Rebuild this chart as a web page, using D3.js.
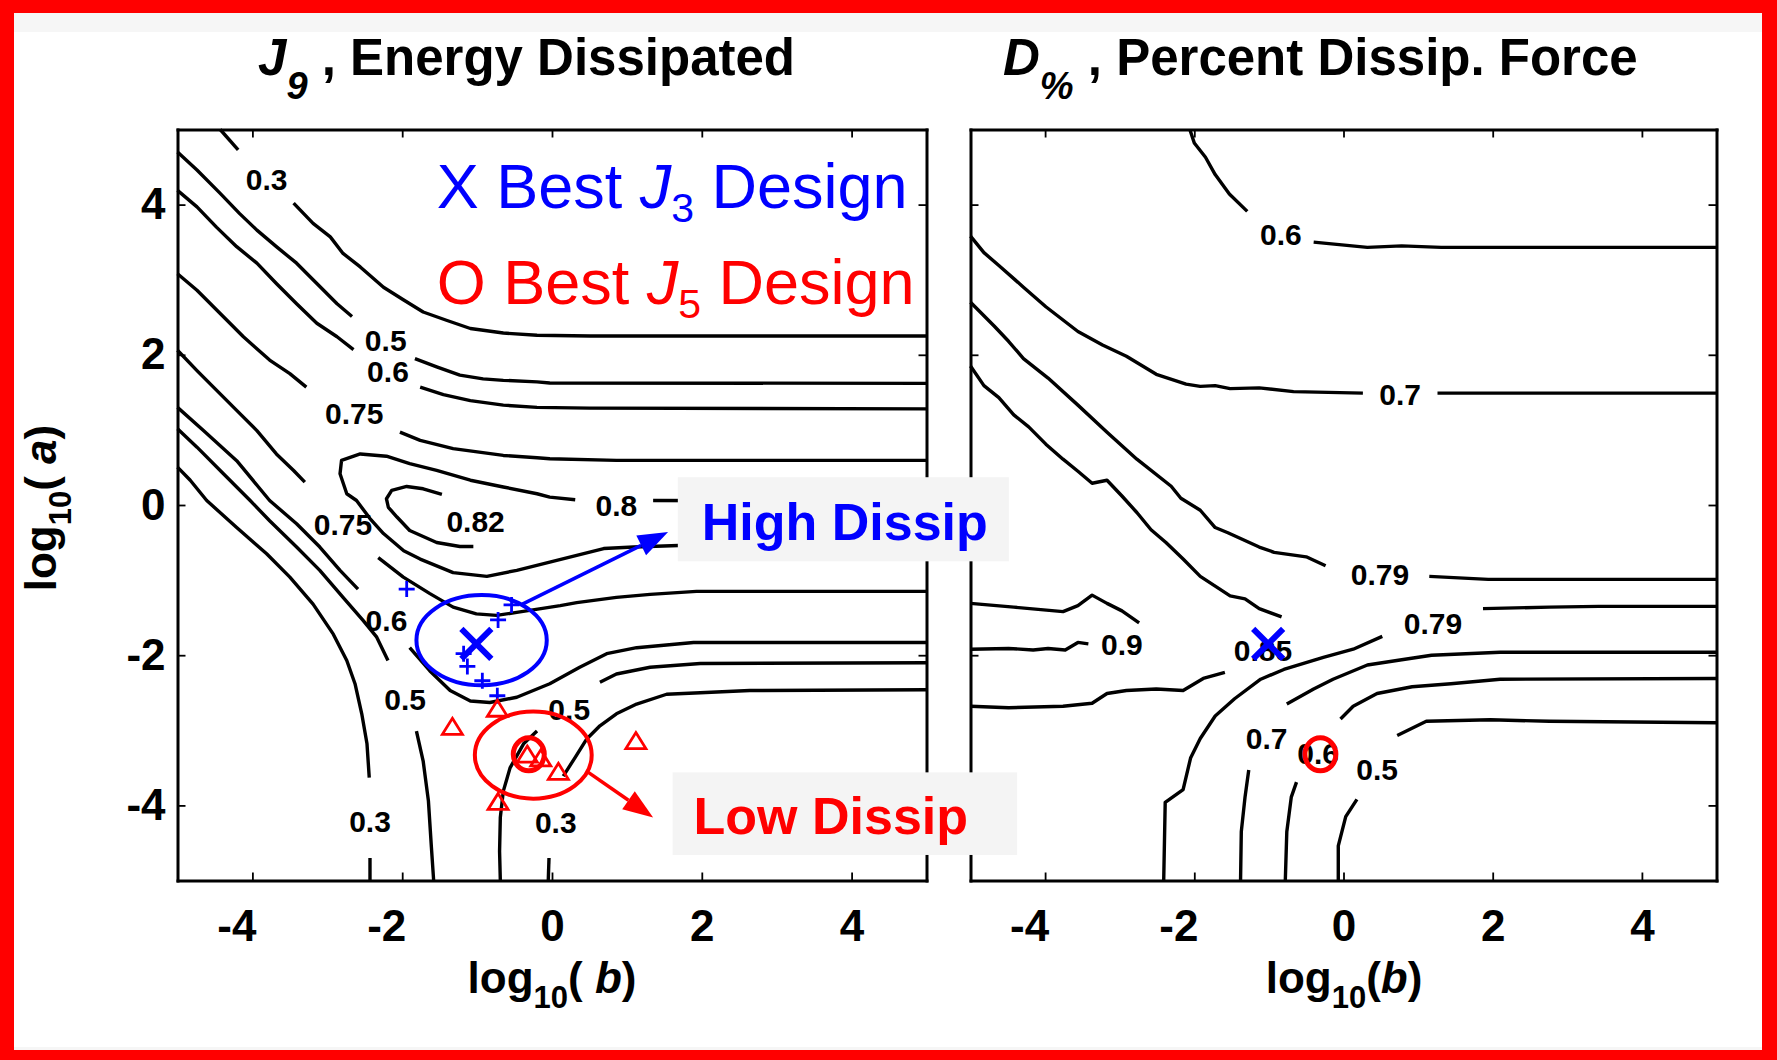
<!DOCTYPE html>
<html>
<head>
<meta charset="utf-8">
<script src="https://cdn.jsdelivr.net/npm/d3@7"></script>
<style>
  body { margin: 0; background: #fff; }
  text { font-family: "Liberation Sans", Arial, sans-serif; }
</style>
</head>
<body>
<script>
// ---- data (log10 b, log10 a) ----
const tickValues = [-4, -2, 0, 2, 4];

// J9 contour pieces, split where the level labels sit
const j9Segments = [
  [[-4.43, 5.0], [-4.19, 4.73]],
  [[-3.45, 4.02], [-3.19, 3.75], [-2.96, 3.57], [-2.79, 3.35], [-2.56, 3.17], [-2.25, 2.90], [-1.98, 2.73], [-1.72, 2.57], [-1.41, 2.46], [-1.09, 2.35], [-0.65, 2.29], [-0.20, 2.26], [0.51, 2.25], [5.0, 2.25]],
  [[-5.0, 4.70], [-4.74, 4.46], [-4.43, 4.15], [-4.17, 3.88], [-3.94, 3.66], [-3.68, 3.44], [-3.41, 3.22], [-3.14, 2.95], [-2.87, 2.68], [-2.67, 2.51]],
  [[-1.83, 1.95], [-1.54, 1.84], [-1.23, 1.73], [-0.92, 1.68], [-0.65, 1.66], [-0.20, 1.64], [-0.03, 1.625], [5.0, 1.62]],
  [[-5.0, 4.19], [-4.74, 3.97], [-4.48, 3.70], [-4.21, 3.44], [-3.94, 3.22], [-3.68, 2.95], [-3.41, 2.68], [-3.14, 2.42], [-2.87, 2.24], [-2.65, 2.07]],
  [[-1.76, 1.57], [-1.45, 1.47], [-1.09, 1.39], [-0.65, 1.33], [-0.20, 1.30], [0.5, 1.29], [5.0, 1.28]],
  [[-5.0, 3.08], [-4.74, 2.86], [-4.43, 2.55], [-4.12, 2.24], [-3.77, 1.93], [-3.50, 1.75], [-3.28, 1.57]],
  [[-2.03, 0.97], [-1.76, 0.86], [-1.32, 0.75], [-0.65, 0.66], [-0.20, 0.63], [-0.03, 0.616], [0.86, 0.594], [5.0, 0.594]],
  [[0.31, 0.07], [-0.03, 0.105], [-0.20, 0.15], [-0.65, 0.24], [-1.09, 0.33], [-1.54, 0.46], [-1.9, 0.55], [-2.21, 0.65], [-2.56, 0.68], [-2.81, 0.594], [-2.83, 0.416], [-2.74, 0.15], [-2.61, 0.06], [-2.43, -0.18], [-2.25, -0.38], [-1.98, -0.61], [-1.76, -0.72], [-1.32, -0.90], [-0.87, -0.95], [-0.47, -0.87], [-0.03, -0.76], [0.33, -0.67], [0.69, -0.58], [1.09, -0.56], [1.69, -0.54], [5.0, -0.54]],
  [[1.35, 0.06], [5.0, 0.05]],
  [[-1.47, 0.14], [-1.72, 0.216], [-1.94, 0.247], [-2.14, 0.194], [-2.21, 0.083], [-2.185, -0.03], [-2.07, -0.16], [-1.90, -0.34], [-1.54, -0.50], [-1.23, -0.553], [-1.05, -0.553]],
  [[-5.0, 2.06], [-4.74, 1.79], [-4.48, 1.53], [-4.21, 1.26], [-3.94, 0.99], [-3.68, 0.68], [-3.45, 0.46], [-3.30, 0.305]],
  [[-2.32, -0.70], [-1.985, -0.96], [-1.63, -1.18], [-1.32, -1.36], [-1.01, -1.45], [-0.74, -1.47], [-0.47, -1.43], [0.11, -1.34], [0.33, -1.30], [0.86, -1.23], [1.31, -1.19], [1.93, -1.15], [5.0, -1.15]],
  [[-5.0, 1.30], [-4.65, 0.99], [-4.21, 0.59], [-3.77, 0.06], [-3.41, -0.25], [-3.10, -0.56], [-2.83, -0.87], [-2.59, -1.12]],
  [[-1.90, -1.90], [-1.63, -2.21], [-1.36, -2.47], [-1.09, -2.61], [-0.83, -2.63], [-0.47, -2.56], [-0.03, -2.38], [0.37, -2.16], [0.73, -1.98], [1.13, -1.90], [1.89, -1.83], [5.0, -1.83]],
  [[-5.0, 1.016], [-4.74, 0.77], [-4.39, 0.42], [-4.03, 0.06], [-3.77, -0.21], [-3.41, -0.56], [-3.10, -0.87], [-2.79, -1.23], [-2.52, -1.54], [-2.34, -1.76], [-2.19, -2.07]],
  [[-1.81, -3.01], [-1.72, -3.41], [-1.65, -3.94], [-1.61, -4.56], [-1.58, -5.0]],
  [[-5.0, 0.505], [-4.83, 0.33], [-4.61, 0.06], [-4.21, -0.30], [-3.81, -0.65], [-3.50, -0.96], [-3.19, -1.32], [-2.92, -1.72], [-2.74, -2.07], [-2.63, -2.38], [-2.54, -2.78], [-2.47, -3.18], [-2.44, -3.63]],
  [[-2.43, -4.70], [-2.43, -5.0]],
  [[-0.69, -5.0], [-0.70, -4.61], [-0.69, -4.16], [-0.65, -3.81], [-0.56, -3.50], [-0.38, -3.18], [-0.20, -3.01]],
  [[0.64, -2.36], [0.86, -2.25], [1.31, -2.16], [1.98, -2.11], [5.0, -2.10]],
  [[-0.05, -5.0], [-0.04, -4.70]],
  [[0.15, -3.61], [0.31, -3.36], [0.46, -3.12], [0.64, -2.94], [0.86, -2.78], [1.13, -2.65], [1.53, -2.52], [1.98, -2.50], [2.64, -2.47], [5.0, -2.46]]
];
const j9Labels = [
  ["0.3", -3.81, 4.34], ["0.5", -2.22, 2.19], ["0.6", -2.19, 1.78], ["0.75", -2.64, 1.225],
  ["0.8", 0.86, 0.0], ["0.82", -1.02, -0.22], ["0.75", -2.79, -0.26], ["0.6", -2.21, -1.54],
  ["0.5", -1.96, -2.58], ["0.3", -2.43, -4.21], ["0.5", 0.23, -2.72], ["0.3", 0.05, -4.22]
];

// D% contour pieces
const dpSegments = [
  [[-2.06, 5.0], [-2.0, 4.82], [-1.85, 4.63], [-1.72, 4.40], [-1.53, 4.14], [-1.29, 3.91]],
  [[-0.40, 3.50], [0.32, 3.43], [0.78, 3.45], [1.31, 3.43], [5.0, 3.43]],
  [[-5.0, 3.58], [-4.82, 3.36], [-4.62, 3.19], [-4.29, 2.90], [-3.99, 2.64], [-3.56, 2.31], [-3.23, 2.13], [-2.91, 1.98], [-2.51, 1.74], [-2.11, 1.61], [-1.92, 1.58], [-1.72, 1.59], [-1.52, 1.55], [-1.13, 1.56], [-0.67, 1.51], [0.26, 1.49]],
  [[1.26, 1.49], [5.0, 1.49]],
  [[-5.0, 2.70], [-4.68, 2.38], [-4.49, 2.18], [-4.29, 1.95], [-3.96, 1.69], [-3.56, 1.33], [-3.17, 0.97], [-2.77, 0.61], [-2.31, 0.25], [-2.18, 0.09], [-1.92, -0.07], [-1.72, -0.30], [-1.55, -0.37], [-1.13, -0.56], [-0.93, -0.63], [-0.50, -0.69], [-0.24, -0.81]],
  [[1.15, -0.95], [1.94, -0.99], [5.0, -0.99]],
  [[-5.0, 1.85], [-4.82, 1.59], [-4.62, 1.43], [-4.42, 1.20], [-4.22, 1.04], [-3.99, 0.81], [-3.76, 0.61], [-3.56, 0.45], [-3.37, 0.29], [-3.17, 0.33], [-2.97, 0.12], [-2.77, -0.10], [-2.58, -0.33], [-2.38, -0.50], [-2.15, -0.72], [-1.92, -0.95], [-1.72, -1.08], [-1.52, -1.21], [-1.32, -1.25], [-1.13, -1.38], [-0.83, -1.49]],
  [[-1.59, -2.23], [-1.88, -2.31], [-2.15, -2.47], [-2.51, -2.45], [-2.91, -2.47], [-3.17, -2.51], [-3.37, -2.64], [-3.76, -2.68], [-4.49, -2.70], [-5.0, -2.68]],
  [[-5.0, -1.31], [-4.42, -1.36], [-3.76, -1.42], [-3.56, -1.34], [-3.37, -1.20], [-3.17, -1.31], [-2.97, -1.41], [-2.74, -1.57]],
  [[-3.42, -1.85], [-3.56, -1.83], [-3.73, -1.93], [-3.96, -1.91], [-4.16, -1.93], [-4.49, -1.91], [-5.0, -1.92]],
  [[-2.41, -5.0], [-2.39, -3.96], [-2.15, -3.79], [-2.05, -3.37], [-1.92, -3.11], [-1.72, -2.81], [-1.46, -2.58], [-1.11, -2.32], [-0.80, -2.19], [-0.27, -2.03], [0.13, -1.92], [0.52, -1.75]],
  [[1.87, -1.38], [2.76, -1.36], [3.42, -1.35], [5.0, -1.35]],
  [[-1.38, -5.0], [-1.37, -4.35], [-1.32, -3.89], [-1.27, -3.53]],
  [[-0.76, -2.65], [-0.40, -2.45], [-0.14, -2.32], [0.32, -2.13], [0.78, -2.06], [1.18, -2.0], [2.10, -1.96], [5.0, -1.96]],
  [[-0.78, -5.0], [-0.76, -4.35], [-0.70, -3.89], [-0.63, -3.69]],
  [[-0.04, -2.85], [0.13, -2.68], [0.45, -2.51], [0.92, -2.42], [1.44, -2.38], [2.10, -2.32], [5.0, -2.31]],
  [[-0.07, -5.0], [-0.07, -4.54], [0.03, -4.15], [0.18, -3.92]],
  [[0.72, -3.07], [1.11, -2.88], [1.97, -2.86], [2.76, -2.88], [5.0, -2.90]]
];
const dpLabels = [
  ["0.6", -0.84, 3.60], ["0.7", 0.76, 1.48], ["0.79", 0.49, -0.92], ["0.79", 1.20, -1.57],
  ["0.9", -2.97, -1.85], ["0.85", -1.08, -1.93], ["0.7", -1.03, -3.11], ["0.6", -0.34, -3.30],
  ["0.5", 0.45, -3.52]
];

// designs
const bestJ3 = [-1.01, -1.85];
const bestJ5 = [-0.31, -3.32];
const j3Cloud = [[-1.94, -1.12], [-0.54, -1.33], [-0.72, -1.53], [-1.18, -1.98], [-1.13, -2.15], [-0.93, -2.34], [-0.73, -2.54]];
const j5Cloud = [[-1.33, -2.96], [-0.73, -2.72], [-0.33, -3.33], [-0.15, -3.38], [0.085, -3.56], [-0.72, -3.96], [1.12, -3.15]];
const highEllipse = { cx: -0.94, cy: -1.80, rx: 0.87, ry: 0.60 };
const lowEllipse = { cx: -0.25, cy: -3.33, rx: 0.78, ry: 0.58 };
const highArrow = [[-0.395, -1.32], [1.55, -0.36]];
const lowArrow = [[0.485, -3.56], [1.35, -4.16]];

// ---- drawing ----
const W = 1777, H = 1060;
const svg = d3.select("body").append("svg").attr("width", W).attr("height", H);

svg.append("rect").attr("width", W).attr("height", H).attr("fill", "#ff0000");
svg.append("rect").attr("x", 14).attr("y", 13).attr("width", W - 29).attr("height", H - 23).attr("fill", "#f6f6f6");
svg.append("rect").attr("x", 14).attr("y", 32).attr("width", W - 29).attr("height", H - 45).attr("fill", "#ffffff");

const y = d3.scaleLinear().domain([-5, 5]).range([880.5, 129.5]);
const xL = d3.scaleLinear().domain([-5, 5]).range([177.5, 926.5]);
const xR = d3.scaleLinear().domain([-5, 5]).range([970.5, 1716.5]);

function drawAxes(xs, withYLabels) {
  const g = svg.append("g");
  const style = sel => {
    sel.select(".domain").attr("stroke-width", 3).attr("stroke-linecap", "square");
    sel.selectAll(".tick line").attr("stroke-width", 1.8);
    sel.selectAll(".tick text").attr("font-size", 44).attr("font-weight", "bold").attr("fill", "#000");
  };
  g.append("g").attr("transform", `translate(0,${y.range()[0]})`)
    .call(d3.axisBottom(xs).tickValues(tickValues).tickSize(-8).tickSizeOuter(0).tickPadding(29).tickFormat(d => d))
    .call(style)
    .call(a => a.selectAll(".tick text").attr("dx", d => d < 0 ? -16 : 0));
  g.append("g").attr("transform", `translate(0,${y.range()[1]})`)
    .call(d3.axisTop(xs).tickValues(tickValues).tickSize(-8).tickSizeOuter(0).tickFormat(""))
    .call(style);
  g.append("g").attr("transform", `translate(${xs.range()[0]},0)`)
    .call(d3.axisLeft(y).tickValues(tickValues).tickSize(-8).tickSizeOuter(0).tickPadding(12)
      .tickFormat(withYLabels ? (d => d) : ""))
    .call(style);
  g.append("g").attr("transform", `translate(${xs.range()[1]},0)`)
    .call(d3.axisRight(y).tickValues(tickValues).tickSize(-8).tickSizeOuter(0).tickFormat(""))
    .call(style);
}

function drawContours(xs, segs, labels) {
  const line = d3.line().x(d => xs(d[0])).y(d => y(d[1]));
  svg.append("g").selectAll("path").data(segs).join("path")
    .attr("d", line)
    .attr("fill", "none").attr("stroke", "#000").attr("stroke-width", 3.4)
    .attr("stroke-linejoin", "round");
  svg.append("g").selectAll("text").data(labels).join("text")
    .attr("x", d => xs(d[1])).attr("y", d => y(d[2])).attr("dy", "0.36em")
    .attr("text-anchor", "middle").attr("font-size", 30).attr("font-weight", "bold")
    .text(d => d[0]);
}

function drawX(xs, p, col) {
  const cx = xs(p[0]), cy = y(p[1]), r = 15;
  svg.append("path")
    .attr("d", `M${cx - r},${cy - r}L${cx + r},${cy + r}M${cx + r},${cy - r}L${cx - r},${cy + r}`)
    .attr("stroke", col).attr("stroke-width", 6).attr("fill", "none");
}
function drawO(xs, p, col) {
  svg.append("ellipse").attr("cx", xs(p[0])).attr("cy", y(p[1]))
    .attr("rx", 15.5).attr("ry", 16.5)
    .attr("fill", "none").attr("stroke", col).attr("stroke-width", 5);
}
function drawArrow(xs, a, col) {
  const x0 = xs(a[0][0]), y0 = y(a[0][1]), x1 = xs(a[1][0]), y1 = y(a[1][1]);
  const ang = Math.atan2(y1 - y0, x1 - x0), len = 30, half = 11;
  const bx = x1 - len * Math.cos(ang), by = y1 - len * Math.sin(ang);
  svg.append("line").attr("x1", x0).attr("y1", y0).attr("x2", bx).attr("y2", by)
    .attr("stroke", col).attr("stroke-width", 3.5);
  const px = -Math.sin(ang) * half, py = Math.cos(ang) * half;
  svg.append("path")
    .attr("d", `M${x1},${y1}L${bx + px},${by + py}L${bx - px},${by - py}Z`)
    .attr("fill", col);
}

// left panel
drawContours(xL, j9Segments, j9Labels);
svg.append("g").selectAll("path").data(j3Cloud).join("path")
  .attr("d", d => { const cx = xL(d[0]), cy = y(d[1]); return `M${cx - 8},${cy}H${cx + 8}M${cx},${cy - 8}V${cy + 8}`; })
  .attr("stroke", "#0000ff").attr("stroke-width", 2.8);
svg.append("g").selectAll("path").data(j5Cloud).join("path")
  .attr("d", d => { const cx = xL(d[0]), cy = y(d[1]); return `M${cx},${cy - 9}L${cx + 10},${cy + 7}L${cx - 10},${cy + 7}Z`; })
  .attr("fill", "none").attr("stroke", "#ff0000").attr("stroke-width", 2.8);
[[highEllipse, "#0000ff"], [lowEllipse, "#ff0000"]].forEach(([e, col]) => {
  svg.append("ellipse").attr("cx", xL(e.cx)).attr("cy", y(e.cy))
    .attr("rx", xL(e.rx) - xL(0)).attr("ry", y(0) - y(e.ry))
    .attr("fill", "none").attr("stroke", col).attr("stroke-width", 4);
});
drawX(xL, bestJ3, "#0000ff");
drawO(xL, bestJ5, "#ff0000");
drawArrow(xL, highArrow, "#0000ff");
drawArrow(xL, lowArrow, "#ff0000");
drawAxes(xL, true);

// right panel
drawContours(xR, dpSegments, dpLabels);
drawAxes(xR, false);
drawX(xR, bestJ3, "#0000ff");
drawO(xR, bestJ5, "#ff0000");

// legend texts
function legend(sym, sub, col, baseY) {
  const t = svg.append("text").attr("x", xL(-1.54)).attr("y", y(baseY))
    .attr("font-size", 63).attr("fill", col);
  t.append("tspan").text(sym + " Best ");
  t.append("tspan").attr("font-style", "italic").text("J");
  t.append("tspan").attr("font-size", 41).attr("dy", 14).text(sub);
  t.append("tspan").attr("dy", -14).text(" Design");
}
legend("X", "3", "#0000ff", 3.96);
legend("O", "5", "#ff0000", 2.67);

// annotation boxes
function callout(x0, x1, y0, y1, tx, ty, txt, col) {
  svg.append("rect").attr("x", xL(x0)).attr("y", y(y0))
    .attr("width", xL(x1) - xL(x0)).attr("height", y(y1) - y(y0)).attr("fill", "#f4f4f4");
  svg.append("text").attr("x", xL(tx)).attr("y", y(ty))
    .attr("font-size", 52).attr("font-weight", "bold").attr("fill", col).text(txt);
}
callout(1.68, 6.10, 0.37, -0.75, 2.0, -0.47, "High Dissip", "#0000ff");
callout(1.61, 6.21, -3.56, -4.66, 1.89, -4.38, "Low Dissip", "#ff0000");

// titles
function title(x, main, sub, rest) {
  const t = svg.append("text").attr("x", x).attr("y", 75)
    .attr("font-size", 51).attr("font-weight", "bold");
  t.append("tspan").attr("font-style", "italic").text(main);
  t.append("tspan").attr("font-style", "italic").attr("font-size", 38).attr("dy", 24).text(sub);
  t.append("tspan").attr("dy", -24).text(rest);
}
title(258, "J", "9", " , Energy Dissipated");
title(1003, "D", "%", " , Percent Dissip. Force");

// axis titles
function axisTitle(g, spaced, v) {
  g.attr("font-size", 44).attr("font-weight", "bold").attr("text-anchor", "middle");
  g.append("tspan").text("log");
  g.append("tspan").attr("font-size", 31).attr("dy", 15).text("10");
  g.append("tspan").attr("dy", -15).text(spaced ? "( " : "(");
  g.append("tspan").attr("font-style", "italic").text(v);
  g.append("tspan").text(")");
}
axisTitle(svg.append("text").attr("x", 552).attr("y", 993), true, "b");
axisTitle(svg.append("text").attr("x", 1344).attr("y", 993), false, "b");
axisTitle(svg.append("text").attr("transform", "translate(56,508) rotate(-90)"), true, "a");
</script>
</body>
</html>
